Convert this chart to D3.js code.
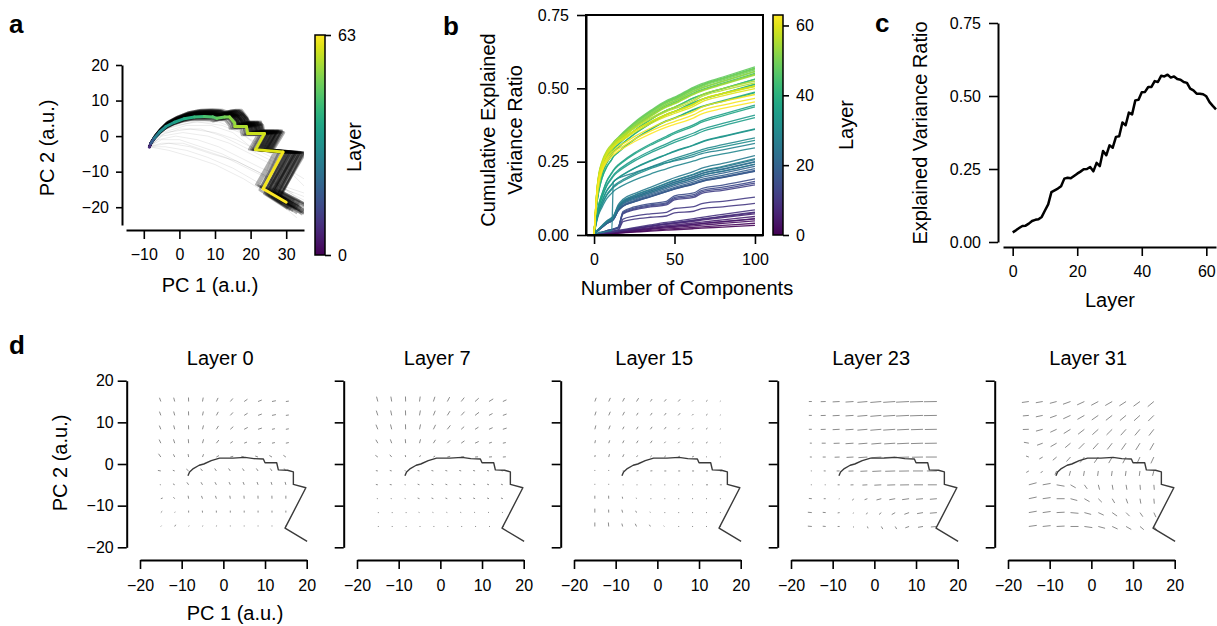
<!DOCTYPE html>
<html>
<head>
<meta charset="utf-8">
<script src="https://cdn.jsdelivr.net/npm/d3@7"></script>
<style>
  body { margin: 0; background: #fff; }
</style>
</head>
<body>
<svg id="fig" width="1217" height="626"></svg>
<script>
// ---------------- data ----------------

// panel a: mean trajectory in PC space (vertices) and the layer at each vertex
const trajA = [[-8.45,-3.1],[-8.0,-2.0],[-7.0,-0.5],[-5.6,1.1],[-3.8,2.7],[-1.4,3.9],[1.4,4.9],
  [4.2,5.4],[7.0,5.5],[9.4,5.4],[10.5,5.0],[12.7,5.4],[14.1,5.4],[15.5,3.7],[15.6,2.7],
  [18.8,2.7],[19.2,0.7],[23.9,0.7],[21.4,-3.8],[29.1,-4.5],[23.5,-14.8],[30.0,-18.6]];
const trajALayer = [0,8,18,26,30,33,36,39,42,45,46,48,50,52,53,55,56,58,59,60,62,63];

// individual token trajectories: stretch of the mean path around its start (kx, ky)
const bundleScales = [[1.00,1.00],[1.02,1.05],[1.04,1.08],[1.06,1.10],[1.08,1.12],[1.10,1.15],
  [1.12,1.18],[1.14,1.20],[0.98,0.96],[0.96,0.92],[1.03,0.98],[1.05,1.02],[1.07,1.06],[1.09,1.04],
  [1.11,1.10],[1.13,1.14],[0.97,1.03],[1.01,1.12],[1.05,1.16],[1.08,1.20],[1.12,1.22],[0.94,0.90],
  [1.00,0.94],[1.06,0.97],[1.10,1.00],[1.14,1.06],[1.02,1.09],[1.07,1.13],[1.15,1.17],[1.03,1.14],
  [1.09,1.08],[1.13,1.02],[1.16,1.12],[1.11,1.19],[1.15,1.23],[1.04,1.11],[1.10,1.06],[1.17,1.08]];

// faint outlier trajectories
const faintPaths = [
  [[-8.5,-3],[-5,-1],[0,-1],[6,-3],[12,-5],[18,-8],[24,-11],[30,-15],[35,-19]],
  [[-8.5,-3],[-4,-3],[2,-4],[8,-6],[15,-9],[22,-13],[28,-17],[34,-22]],
  [[-8.5,-3],[-3,-4],[4,-6],[10,-8],[18,-12],[26,-17],[33,-23]],
  [[-8.5,-3],[-6,0],[0,2],[6,2],[12,0],[18,-3],[24,-6],[30,-9],[35,-12]],
  [[-8.5,-3],[-5,1],[2,3],[9,3],[15,1],[20,-3],[26,-5],[24,-12],[32,-16]],
  [[-8.5,-3],[-6,-1],[-1,0],[5,-1],[11,-3],[17,-6],[23,-9],[28,-11],[27,-17],[35,-21]],
  [[-8.5,-3],[-4,2],[4,4],[11,4],[16,2],[20,-1],[25,-3],[30,-6],[27,-14],[35,-17]],
  [[-8.5,-3],[-5,0],[1,1],[8,0],[14,-2],[20,-5],[26,-8],[32,-11],[35,-14]],
  [[-8.5,-3],[-5,-2],[1,-2],[7,-4],[13,-6],[19,-9],[25,-12],[31,-16],[35,-18]],
  [[-8.5,-3],[-4,1],[3,2],[10,1],[16,-1],[22,-4],[28,-7],[25,-15],[33,-20]],
  [[-8.5,-3],[-3,-2],[3,-3],[9,-5],[16,-7],[22,-10],[29,-14],[35,-16]],
  [[-8.5,-3],[-6,1],[-1,3],[5,4],[12,3],[17,1],[21,-2],[28,-4],[24,-13],[34,-18]]
];

// panel c: explained variance ratio (top 100 components) per layer
const explainedVar = [0.033,0.040,0.048,0.055,0.056,0.063,0.072,0.076,0.078,0.086,
  0.108,0.129,0.171,0.177,0.183,0.191,0.217,0.220,0.218,0.226,
  0.234,0.241,0.249,0.250,0.257,0.242,0.271,0.260,0.312,0.297,
  0.331,0.323,0.360,0.362,0.409,0.400,0.443,0.437,0.485,0.487,
  0.513,0.514,0.531,0.531,0.551,0.548,0.569,0.567,0.573,0.563,
  0.567,0.558,0.556,0.548,0.545,0.525,0.519,0.508,0.508,0.506,
  0.499,0.479,0.466,0.454];

// panel b: cumulative curves, read at these component counts, as a fraction of the final value
const components = [0,1,2,3,5,8,11,12,15,18,25,35,45,50,62,67,80,100];
const cumProfiles = [
  [0,.02,.04,.05,.08,.11,.14,.15,.18,.21,.29,.40,.50,.54,.65,.70,.82,1],
  [0,.01,.02,.03,.05,.08,.10,.11,.14,.42,.50,.56,.60,.70,.75,.83,.89,1],
  [0,.03,.06,.08,.12,.18,.22,.24,.38,.45,.52,.60,.68,.72,.80,.84,.90,1],
  [0,.01,.02,.03,.03,.04,.05,.58,.62,.64,.68,.74,.79,.81,.86,.89,.93,1],
  [0,.10,.18,.24,.32,.42,.48,.50,.54,.57,.63,.70,.76,.79,.85,.88,.93,1],
  [0,.14,.24,.31,.40,.48,.53,.55,.58,.61,.67,.74,.80,.82,.88,.90,.94,1],
  [0,.18,.32,.40,.48,.55,.59,.60,.63,.65,.70,.76,.81,.83,.88,.91,.95,1]
];
const layerProfile = [0,0,0,0,0,0,0,0,0,0, 1,1,1,1,1,1, 2,2,2,2,2,2,2,2,2,2,2,2, 3,
  4,4,4,4,4,4,4,4,4, 5,5,5,5,5,5,5,5,5,5,5,5,5,5,5,5,5, 6,6,6,6,6,6,6,6,6];

// panel d: shared trajectory and flow fields on a 10 x 10 grid
const pathD = [[-8.5,-2.8],[-8.1,-1.9],[-7.2,-1.1],[-5.8,-0.3],[-4.7,0.0],[-2.9,0.8],[-0.9,1.4],
  [2.3,1.4],[5.2,1.6],[7.3,1.3],[9.6,1.2],[10.0,0.3],[12.8,0.3],[13.2,-1.4],[15.4,-1.5],
  [16.8,-1.9],[16.8,-4.9],[19.8,-5.7],[14.8,-15.4],[20.1,-18.6]];
const quiverGrid = [-15,-11.67,-8.33,-5,-1.67,1.67,5,8.33,11.67,15];
const quiverLayers = [0, 7, 15, 23, 31];

// direction (deg) of each arrow, rows from top (y=15) to bottom (y=-15)
const angL0 = [
  [110,105,92,80,65,50,35,22,12,8],[110,105,92,78,62,48,32,20,12,8],
  [112,105,92,76,58,42,28,18,12,10],[115,108,95,75,52,35,22,15,12,12],
  [125,115,100,70,30,15,165,160,150,145],[170,160,140,130,125,125,125,125,125,125],
  [170,150,125,120,118,115,112,110,108,105],[20,130,100,110,108,100,95,92,92,90],
  [45,60,90,95,92,90,90,90,90,90],[50,60,60,70,80,90,90,90,90,90]];
const lenL0 = [
  [4,4,4,4,4,4,4,4,4,3],[4,4,4,4,4,4,4,4,4,3],[4,4,4,4,4,4,4,4,3,3],[4,4,4,4,4,3,3,3,3,3],
  [4,3,3,3,3,3,3,3,3,3],[3,2,3,3,3,3,3,3,3,3],[1,2,3,3,3,3,3,3,3,3],[2,2,3,3,3,3,3,3,3,3],
  [2,1,2,2,2,2,2,2,2,2],[1,2,1,1,1,1,1,1,1,1]];
const angL7 = [
  [105,100,92,82,72,62,52,42,32,25],[108,102,92,80,68,58,48,38,28,20],
  [112,104,92,78,64,52,42,32,24,18],[120,110,95,75,58,45,35,25,18,12],
  [145,130,100,60,30,15,8,5,5,5],[170,165,160,165,165,165,165,165,165,165],
  [170,170,165,160,160,160,160,160,160,160],[170,170,165,160,160,160,160,160,160,160],
  [0,0,0,160,160,160,160,160,160,160],[0,0,0,0,0,0,0,0,0,0]];
const lenL7 = [
  [5,5,5,5,5,5,5,5,5,4],[5,5,5,5,5,5,5,5,4,4],[5,5,5,5,5,5,4,4,4,4],[4,4,4,4,4,4,4,4,3,3],
  [3,3,2,2,2,3,3,3,3,3],[2,2,1,2,2,2,2,2,2,2],[2,2,1,2,2,2,2,2,2,2],[1,1,1,2,2,2,2,2,2,2],
  [1,1,1,1,1,1,1,1,1,1],[1,1,1,1,1,1,1,1,1,1]];
const angL15 = [
  [70,65,62,58,55,50,48,45,40,35],[72,66,62,58,55,52,48,45,40,35],
  [75,68,62,58,55,52,48,45,40,30],[78,70,64,58,55,50,45,40,35,30],
  [80,75,65,55,45,40,30,25,20,15],[90,90,20,10,5,0,0,0,0,0],
  [90,90,0,0,0,0,0,0,0,0],[90,92,100,110,0,0,0,0,0,0],
  [90,92,105,115,120,0,0,0,0,0],[90,95,105,115,120,130,0,0,0,0]];
const lenL15 = [
  [4,4,4,4,3,3,3,2,2,1],[4,4,4,3,3,3,3,2,2,1],[4,4,3,3,3,3,2,2,2,1],[3,3,3,3,3,2,2,2,2,1],
  [2,3,3,2,2,2,2,2,1,1],[1,1,1,2,2,2,2,2,2,2],[1,1,1,1,1,1,1,1,2,2],[3,3,2,1,1,1,1,1,1,1],
  [4,3,3,2,1,1,1,1,1,1],[4,4,3,3,2,1,1,1,1,1]];
const angL23 = [
  [180,182,183,184,185,185,184,183,182,181],[180,182,183,184,185,185,184,183,182,181],
  [180,182,183,184,185,185,184,183,182,181],[178,180,182,184,185,185,184,183,182,181],
  [178,180,182,183,184,184,183,182,181,180],[175,178,180,182,183,183,182,181,180,180],
  [175,178,180,182,183,183,182,181,180,180],[175,180,200,240,200,195,190,188,185,185],
  [175,175,190,250,240,220,210,200,190,185],[175,175,180,270,290,300,300,200,190,185]];
const lenL23 = [
  [3,5,7,8,10,11,12,13,13,13],[3,5,7,8,10,11,12,13,13,13],[3,5,7,8,10,11,12,12,12,12],
  [2,4,6,8,9,10,11,12,12,12],[2,3,5,7,9,10,11,11,11,11],[1,2,3,5,7,9,10,10,10,10],
  [1,1,2,3,5,7,8,9,9,9],[3,2,1,2,3,5,6,7,7,7],[4,3,2,1,2,3,4,5,6,7],[4,3,2,1,2,3,3,4,5,6]];
const angL31 = [
  [188,190,195,200,205,208,210,213,216,220],[185,192,200,205,210,215,218,220,222,225],
  [182,195,205,212,218,222,225,228,230,232],[170,200,210,220,225,228,232,235,238,240],
  [160,210,220,228,232,235,240,242,245,245],[210,225,245,255,260,262,262,262,262,255],
  [15,10,-10,-30,-55,-75,-80,-80,-85,-85],[12,8,0,-15,-30,-45,-60,-70,-80,-85],
  [10,8,3,-5,-15,-25,-35,-45,-55,-65],[8,6,3,0,-8,-15,-25,-30,-40,-50]];
const lenL31 = [
  [7,7,7,8,8,8,8,8,8,8],[6,7,7,8,8,8,8,8,8,8],[6,7,7,8,8,8,8,8,8,8],[5,6,7,7,8,8,8,8,8,8],
  [3,4,5,6,7,7,7,7,7,7],[3,3,4,5,5,5,5,5,5,5],[8,8,8,6,5,5,5,5,5,5],[8,8,8,7,6,5,5,5,5,5],
  [8,8,8,8,7,6,6,5,5,5],[8,8,8,8,8,7,6,6,5,5]];
const quiverAngles = [angL0, angL7, angL15, angL23, angL31];
const quiverLengths = [lenL0, lenL7, lenL15, lenL23, lenL31];

// ---------------- helpers ----------------
const FONT = "'Liberation Sans', Arial, Helvetica, sans-serif";
const TICK = 16, LABEL = 20;
const svg = d3.select('#fig');

function styleAxis(g, size) {
  g.attr('font-family', FONT).attr('font-size', size);
  g.select('.domain').attr('stroke', '#000').attr('stroke-width', 2);
  g.selectAll('.tick line').attr('stroke', '#000').attr('stroke-width', 1.6);
  g.selectAll('.tick text').attr('fill', '#000');
}

function addText(x, y, txt, size, rotate, weight, anchor) {
  const t = svg.append('text')
    .attr('font-family', FONT)
    .attr('font-size', size)
    .attr('font-weight', weight || 'normal')
    .attr('text-anchor', anchor || 'middle')
    .text(txt);
  if (rotate) {
    t.attr('transform', `translate(${x},${y}) rotate(-90)`).attr('dy', '0.35em');
  } else {
    t.attr('x', x).attr('y', y);
  }
  return t;
}

// vertical viridis gradient for the colorbars
const defs = svg.append('defs');
const grad = defs.append('linearGradient').attr('id', 'viridis')
  .attr('x1', 0).attr('y1', 1).attr('x2', 0).attr('y2', 0);
d3.range(0, 1.0001, 0.05).forEach(t => {
  grad.append('stop').attr('offset', t).attr('stop-color', d3.interpolateViridis(t));
});
const layerColor = d3.scaleSequential(d3.interpolateViridis).domain([0, 63]);

function colorbar(x, y0, y1, ticks) {
  const s = d3.scaleLinear().domain([0, 63]).range([y1, y0]);
  svg.append('rect').attr('x', x).attr('y', s(63)).attr('width', 10).attr('height', s(0) - s(63))
    .attr('fill', 'url(#viridis)').attr('stroke', '#000').attr('stroke-width', 1.5);
  const g = svg.append('g').attr('transform', `translate(${x + 10},0)`)
    .call(d3.axisRight(s).tickValues(ticks).tickSize(6).tickPadding(7).tickSizeOuter(0));
  styleAxis(g, TICK);
  g.select('.domain').remove();
}

// ---------------- panel a ----------------
const xA = d3.scaleLinear().domain([-15, 35]).range([126, 304]);
const yA = d3.scaleLinear().domain([-25, 20]).range([225, 65]);
const lineA = d3.line().x(d => xA(d[0])).y(d => yA(d[1]));

defs.append('clipPath').attr('id', 'clipA').append('rect')
  .attr('x', xA(-15)).attr('y', yA(20)).attr('width', xA(35) - xA(-15)).attr('height', yA(-25) - yA(20));

const gA = svg.append('g').attr('clip-path', 'url(#clipA)');
faintPaths.forEach(p => {
  gA.append('path').attr('d', lineA(p)).attr('fill', 'none')
    .attr('stroke', '#000').attr('stroke-opacity', 0.08).attr('stroke-width', 1);
});
const start = trajA[0];
bundleScales.forEach(([kx, ky]) => {
  const p = trajA.map(d => [start[0] + (d[0] - start[0]) * kx, start[1] + (d[1] - start[1]) * ky]);
  gA.append('path').attr('d', lineA(p)).attr('fill', 'none')
    .attr('stroke', '#000').attr('stroke-opacity', 0.3).attr('stroke-width', 2.4)
    .attr('stroke-linejoin', 'round');
});
for (let i = 1; i < trajA.length; i++) {
  gA.append('path').attr('d', lineA([trajA[i - 1], trajA[i]]))
    .attr('fill', 'none').attr('stroke', layerColor(trajALayer[i]))
    .attr('stroke-width', 3).attr('stroke-linecap', 'round');
}

let ax = svg.append('g').attr('transform', 'translate(122,0)')
  .call(d3.axisLeft(yA).tickValues([-20, -10, 0, 10, 20]).tickSize(6).tickPadding(7).tickSizeOuter(0));
styleAxis(ax, TICK);
ax = svg.append('g').attr('transform', 'translate(0,230)')
  .call(d3.axisBottom(xA).tickValues([-10, 0, 10, 20, 30]).tickSize(9).tickPadding(10).tickSizeOuter(0));
styleAxis(ax, TICK);

colorbar(315, 35, 255, [0, 63]);
addText(210, 292, 'PC 1 (a.u.)', LABEL);
addText(47, 148, 'PC 2 (a.u.)', LABEL, true);
addText(354, 147, 'Layer', LABEL, true);
addText(9, 33, 'a', 26, false, 'bold', 'start');

// ---------------- panel b ----------------
const xB = d3.scaleLinear().domain([-5, 105]).range([586, 763]);
const yB = d3.scaleLinear().domain([0, 0.75]).range([235, 15]);
const lineB = d3.line().x(d => xB(d[0])).y(d => yB(d[1])).curve(d3.curveMonotoneX);

defs.append('clipPath').attr('id', 'clipB').append('rect')
  .attr('x', xB(-5)).attr('y', yB(0.75)).attr('width', xB(105) - xB(-5)).attr('height', yB(0) - yB(0.75));
const gB = svg.append('g').attr('clip-path', 'url(#clipB)');
explainedVar.forEach((v, layer) => {
  const prof = cumProfiles[layerProfile[layer]];
  const pts = components.map((k, j) => [k, v * prof[j]]);
  gB.append('path').attr('d', lineB(pts)).attr('fill', 'none')
    .attr('stroke', layerColor(layer)).attr('stroke-width', 1.3).attr('stroke-opacity', 0.9);
});
svg.append('rect').attr('x', xB(-5)).attr('y', yB(0.75))
  .attr('width', xB(105) - xB(-5)).attr('height', yB(0) - yB(0.75))
  .attr('fill', 'none').attr('stroke', '#000').attr('stroke-width', 2);
ax = svg.append('g').attr('transform', `translate(${xB(-5)},0)`)
  .call(d3.axisLeft(yB).tickValues([0, 0.25, 0.5, 0.75]).tickFormat(d3.format('.2f'))
    .tickSize(9).tickPadding(8).tickSizeOuter(0));
styleAxis(ax, TICK);
ax = svg.append('g').attr('transform', `translate(0,${yB(0)})`)
  .call(d3.axisBottom(xB).tickValues([0, 50, 100]).tickSize(9).tickPadding(10).tickSizeOuter(0));
styleAxis(ax, TICK);

colorbar(773, 15, 235, [0, 20, 40, 60]);
addText(687, 295, 'Number of Components', LABEL);
addText(488, 130, 'Cumulative Explained', LABEL, true);
addText(515, 130, 'Variance Ratio', LABEL, true);
addText(846, 125, 'Layer', LABEL, true);
addText(443, 35, 'b', 26, false, 'bold', 'start');

// ---------------- panel c ----------------
const xC = d3.scaleLinear().domain([-3, 63]).range([1003, 1216]);
const yC = d3.scaleLinear().domain([0, 0.75]).range([242, 23]);
svg.append('path')
  .attr('d', d3.line().x((d, i) => xC(i)).y(d => yC(d))(explainedVar))
  .attr('fill', 'none').attr('stroke', '#000').attr('stroke-width', 2.5)
  .attr('stroke-linejoin', 'round');
ax = svg.append('g').attr('transform', 'translate(998,0)')
  .call(d3.axisLeft(yC).tickValues([0, 0.25, 0.5, 0.75]).tickFormat(d3.format('.2f'))
    .tickSize(9).tickPadding(8).tickSizeOuter(0));
styleAxis(ax, TICK);
ax = svg.append('g').attr('transform', 'translate(0,247)')
  .call(d3.axisBottom(xC).tickValues([0, 20, 40, 60]).tickSize(9).tickPadding(10).tickSizeOuter(0));
styleAxis(ax, TICK);
addText(1110, 307, 'Layer', LABEL);
addText(920, 133, 'Explained Variance Ratio', LABEL, true);
addText(875, 32, 'c', 26, false, 'bold', 'start');

// ---------------- panel d ----------------
addText(9, 354, 'd', 26, false, 'bold', 'start');
quiverLayers.forEach((layer, i) => {
  const x0 = 126.7 + i * 217;
  const xD = d3.scaleLinear().domain([-20, 20]).range([x0 + 13.3, x0 + 180]);
  const yD = d3.scaleLinear().domain([-20, 20]).range([547.3, 380.7]);
  const g = svg.append('g');

  const angs = quiverAngles[i], lens = quiverLengths[i];
  angs.forEach((row, r) => row.forEach((a, c) => {
    const gx = xD(quiverGrid[c]), gy = yD(quiverGrid[9 - r]);
    const L = lens[r][c];
    const rad = a * Math.PI / 180;
    g.append('line')
      .attr('x1', gx).attr('y1', gy)
      .attr('x2', gx + L * Math.cos(rad)).attr('y2', gy - L * Math.sin(rad))
      .attr('stroke', '#8c8c8c').attr('stroke-width', 1);
  }));

  g.append('path')
    .attr('d', d3.line().x(d => xD(d[0])).y(d => yD(d[1]))(pathD))
    .attr('fill', 'none').attr('stroke', '#3a3a3a').attr('stroke-width', 1.4)
    .attr('stroke-linejoin', 'round');

  let a1 = svg.append('g').attr('transform', `translate(${x0},0)`)
    .call(d3.axisLeft(yD).tickValues([-20, -10, 0, 10, 20]).tickSize(9).tickPadding(4)
      .tickSizeOuter(0).tickFormat(i === 0 ? d3.format('d') : () => ''));
  styleAxis(a1, TICK);
  a1 = svg.append('g').attr('transform', 'translate(0,560)')
    .call(d3.axisBottom(xD).tickValues([-20, -10, 0, 10, 20]).tickSize(9).tickPadding(11)
      .tickSizeOuter(0));
  styleAxis(a1, TICK);

  addText(x0 + 93.5, 365, 'Layer ' + layer, LABEL);
});
addText(235, 620, 'PC 1 (a.u.)', LABEL);
addText(60, 463, 'PC 2 (a.u.)', LABEL, true);
</script>
</body>
</html>
